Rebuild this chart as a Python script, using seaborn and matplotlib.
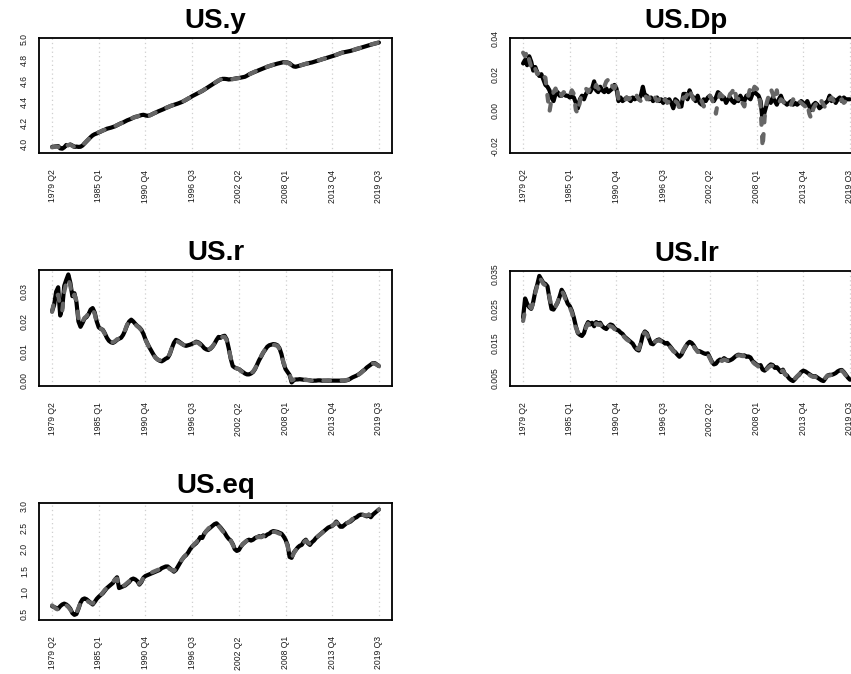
import numpy as np
import pandas as pd
import matplotlib
matplotlib.use("Agg")
import matplotlib.pyplot as plt
import seaborn as sns

# Quarterly sample and the labelled quarters on the time axis
start_q, end_q = "1979Q2", "2019Q3"
tick_labels = ["1979 Q2", "1985 Q1", "1990 Q4", "1996 Q3",
               "2002 Q2", "2008 Q1", "2013 Q4", "2019 Q3"]

# US.y : log real output (actual / fitted)
us_y = [3.972, 3.975, 3.978, 3.980, 3.958, 3.955, 3.968, 3.990, 3.988, 3.995,
        3.985, 3.972, 3.975, 3.972, 3.973, 3.985, 4.005, 4.025, 4.045, 4.065,
        4.082, 4.093, 4.100, 4.110, 4.118, 4.128, 4.135, 4.145, 4.150, 4.155,
        4.162, 4.168, 4.178, 4.188, 4.198, 4.205, 4.215, 4.225, 4.232, 4.240,
        4.250, 4.258, 4.262, 4.268, 4.275, 4.278, 4.272, 4.268, 4.272, 4.280,
        4.290, 4.298, 4.308, 4.316, 4.324, 4.332, 4.342, 4.350, 4.358, 4.366,
        4.372, 4.378, 4.385, 4.392, 4.400, 4.410, 4.420, 4.432, 4.442, 4.455,
        4.465, 4.475, 4.485, 4.495, 4.505, 4.518, 4.530, 4.542, 4.555, 4.568,
        4.580, 4.592, 4.605, 4.615, 4.620, 4.620, 4.618, 4.614, 4.616, 4.618,
        4.622, 4.626, 4.628, 4.632, 4.636, 4.640, 4.650, 4.662, 4.672, 4.680,
        4.688, 4.696, 4.704, 4.712, 4.720, 4.728, 4.735, 4.742, 4.748, 4.754,
        4.760, 4.765, 4.770, 4.775, 4.779, 4.778, 4.776, 4.768, 4.752, 4.738,
        4.735, 4.740, 4.746, 4.752, 4.758, 4.763, 4.768, 4.772, 4.776, 4.782,
        4.788, 4.794, 4.800, 4.806, 4.812, 4.818, 4.824, 4.830, 4.836, 4.842,
        4.848, 4.856, 4.864, 4.870, 4.874, 4.878, 4.882, 4.886, 4.892, 4.898,
        4.904, 4.910, 4.916, 4.922, 4.928, 4.934, 4.940, 4.946, 4.951, 4.956,
        4.960, 4.966]
us_y_fit = [3.968, 3.972, 3.976, 3.975, 3.952, 3.950, 3.964, 3.986, 3.990, 3.992,
            3.982, 3.970, 3.972, 3.970, 3.975, 3.988, 4.008, 4.028, 4.046, 4.062,
            4.080, 4.092, 4.102, 4.112, 4.120, 4.128, 4.136, 4.144, 4.150, 4.156,
            4.164, 4.170, 4.180, 4.188, 4.196, 4.206, 4.216, 4.224, 4.232, 4.242,
            4.250, 4.256, 4.262, 4.270, 4.276, 4.276, 4.270, 4.266, 4.270, 4.280,
            4.290, 4.300, 4.308, 4.316, 4.326, 4.334, 4.342, 4.350, 4.360, 4.366,
            4.372, 4.380, 4.386, 4.392, 4.402, 4.410, 4.422, 4.432, 4.444, 4.455,
            4.466, 4.476, 4.486, 4.496, 4.506, 4.518, 4.530, 4.544, 4.556, 4.568,
            4.580, 4.594, 4.606, 4.614, 4.618, 4.620, 4.616, 4.612, 4.614, 4.618,
            4.620, 4.624, 4.628, 4.632, 4.636, 4.642, 4.652, 4.662, 4.670, 4.680,
            4.690, 4.698, 4.704, 4.712, 4.722, 4.728, 4.736, 4.742, 4.748, 4.756,
            4.760, 4.766, 4.770, 4.774, 4.778, 4.776, 4.772, 4.764, 4.746, 4.734,
            4.734, 4.740, 4.748, 4.752, 4.758, 4.764, 4.768, 4.774, 4.778, 4.782,
            4.788, 4.796, 4.800, 4.808, 4.812, 4.818, 4.826, 4.830, 4.836, 4.844,
            4.850, 4.856, 4.862, 4.870, 4.874, 4.880, 4.882, 4.888, 4.892, 4.898,
            4.906, 4.910, 4.916, 4.924, 4.928, 4.934, 4.942, 4.946, 4.952, 4.956,
            4.962, 4.968]

# US.Dp : quarterly inflation (actual / fitted)
us_dp = [0.026, 0.028, 0.025, 0.030, 0.027, 0.022, 0.024, 0.021, 0.019, 0.020,
         0.017, 0.014, 0.013, 0.011, 0.007, 0.005, 0.009, 0.010, 0.008, 0.008,
         0.009, 0.008, 0.008, 0.007, 0.008, 0.007, 0.004, 0.001, 0.006, 0.008,
         0.006, 0.009, 0.011, 0.010, 0.012, 0.016, 0.011, 0.010, 0.013, 0.011,
         0.010, 0.012, 0.010, 0.011, 0.012, 0.014, 0.012, 0.005, 0.007, 0.005,
         0.006, 0.007, 0.006, 0.005, 0.007, 0.006, 0.007, 0.006, 0.008, 0.013,
         0.008, 0.008, 0.006, 0.007, 0.005, 0.006, 0.007, 0.005, 0.006, 0.004,
         0.006, 0.005, 0.006, 0.004, 0.001, 0.006, 0.005, 0.002, 0.002, 0.009,
         0.009, 0.006, 0.011, 0.008, 0.007, 0.005, 0.008, 0.004, 0.003, 0.006,
         0.005, 0.007, 0.008, 0.006, 0.005, 0.007, 0.010, 0.009, 0.006, 0.007,
         0.004, 0.006, 0.007, 0.005, 0.004, 0.006, 0.005, 0.008, 0.006, 0.005,
         0.008, 0.007, 0.006, 0.009, 0.010, 0.009, 0.008, 0.005, -0.006, -0.001,
         0.003, 0.006, 0.004, 0.007, 0.005, 0.003, 0.006, 0.008, 0.005, 0.004,
         0.003, 0.004, 0.005, 0.003, 0.004, 0.003, 0.004, 0.005, 0.004, 0.003,
         0.005, 0.002, 0.000, 0.003, 0.004, 0.003, 0.001, 0.002, 0.003, 0.004,
         0.005, 0.008, 0.005, 0.006, 0.004, 0.006, 0.007, 0.005, 0.007, 0.006,
         0.006, 0.006]
us_dp_fit = [0.032, 0.030, 0.033, 0.028, 0.024, 0.026, 0.023, 0.020, 0.021, 0.018,
             0.019, 0.018, 0.008, -0.001, 0.006, 0.010, 0.012, 0.009, 0.011, 0.008,
             0.010, 0.009, 0.010, 0.008, 0.011, 0.009, 0.000, -0.002, 0.005, 0.009,
             0.011, 0.012, 0.010, 0.012, 0.010, 0.011, 0.014, 0.012, 0.011, 0.014,
             0.013, 0.016, 0.017, 0.018, 0.013, 0.012, 0.015, 0.006, 0.006, 0.007,
             0.005, 0.007, 0.006, 0.007, 0.005, 0.006, 0.008, 0.006, 0.005, 0.008,
             0.009, 0.006, 0.007, 0.005, 0.004, 0.007, 0.005, 0.006, 0.003, 0.005,
             0.006, 0.004, 0.005, 0.003, 0.003, 0.005, 0.004, 0.001, 0.004, 0.007,
             0.007, 0.009, 0.012, 0.008, 0.006, 0.005, 0.007, 0.006, 0.005, 0.002,
             0.005, 0.007, 0.008, 0.006, 0.003, -0.002, 0.005, 0.009, 0.008, 0.007,
             0.008, 0.006, 0.009, 0.010, 0.013, 0.007, 0.006, 0.008, 0.004, 0.002,
             0.009, 0.008, 0.013, 0.010, 0.013, 0.012, 0.011, 0.002, -0.021, -0.004,
             0.004, 0.008, 0.012, 0.009, 0.005, 0.011, 0.004, 0.006, 0.005, 0.003,
             0.005, 0.004, 0.003, 0.006, 0.004, 0.003, 0.005, 0.004, 0.003, 0.002,
             0.004, -0.002, -0.005, 0.001, 0.003, 0.004, 0.002, 0.005, 0.003, 0.001,
             0.004, 0.006, 0.007, 0.005, 0.004, 0.003, 0.005, 0.006, 0.004, 0.005,
             0.003, 0.004]

# US.r : short-term interest rate (actual / fitted)
us_r = [0.0235, 0.0255, 0.0300, 0.0315, 0.0220, 0.0245, 0.0320, 0.0340, 0.0358, 0.0330,
        0.0285, 0.0295, 0.0265, 0.0200, 0.0182, 0.0195, 0.0210, 0.0215, 0.0225, 0.0240,
        0.0245, 0.0230, 0.0200, 0.0180, 0.0175, 0.0172, 0.0160, 0.0145, 0.0135, 0.0130,
        0.0128, 0.0132, 0.0138, 0.0142, 0.0145, 0.0155, 0.0170, 0.0188, 0.0200, 0.0206,
        0.0200, 0.0192, 0.0185, 0.0180, 0.0172, 0.0158, 0.0140, 0.0125, 0.0112, 0.0100,
        0.0088, 0.0078, 0.0072, 0.0068, 0.0066, 0.0070, 0.0075, 0.0078, 0.0090, 0.0110,
        0.0128, 0.0138, 0.0135, 0.0130, 0.0125, 0.0120, 0.0118, 0.0120, 0.0122, 0.0125,
        0.0128, 0.0132, 0.0130, 0.0125, 0.0118, 0.0110, 0.0106, 0.0104, 0.0108, 0.0115,
        0.0125, 0.0138, 0.0148, 0.0145, 0.0150, 0.0152, 0.0140, 0.0110, 0.0075, 0.0050,
        0.0045, 0.0042, 0.0040, 0.0035, 0.0030, 0.0025, 0.0022, 0.0022, 0.0025, 0.0030,
        0.0040, 0.0055, 0.0070, 0.0082, 0.0095, 0.0105, 0.0115, 0.0120, 0.0122, 0.0124,
        0.0123, 0.0120, 0.0110, 0.0090, 0.0060, 0.0040, 0.0030, 0.0020, -0.0005, 0.0002,
        0.0005, 0.0005, 0.0006, 0.0005, 0.0004, 0.0004, 0.0003, 0.0002, 0.0000, 0.0001,
        0.0001, 0.0002, 0.0002, 0.0001, 0.0001, 0.0001, 0.0001, 0.0001, 0.0001, 0.0001,
        0.0001, 0.0001, 0.0001, 0.0001, 0.0001, 0.0002, 0.0004, 0.0008, 0.0012, 0.0015,
        0.0018, 0.0022, 0.0027, 0.0033, 0.0038, 0.0045, 0.0050, 0.0055, 0.0060, 0.0060,
        0.0055, 0.0050]
us_r_fit = [0.0232, 0.0270, 0.0285, 0.0290, 0.0250, 0.0235, 0.0300, 0.0330, 0.0345, 0.0320,
            0.0280, 0.0290, 0.0270, 0.0210, 0.0190, 0.0200, 0.0212, 0.0218, 0.0228, 0.0238,
            0.0242, 0.0225, 0.0195, 0.0182, 0.0176, 0.0170, 0.0158, 0.0146, 0.0136, 0.0132,
            0.0130, 0.0134, 0.0140, 0.0142, 0.0146, 0.0156, 0.0172, 0.0190, 0.0198, 0.0202,
            0.0198, 0.0190, 0.0184, 0.0178, 0.0170, 0.0156, 0.0138, 0.0124, 0.0110, 0.0098,
            0.0086, 0.0078, 0.0072, 0.0070, 0.0068, 0.0072, 0.0076, 0.0080, 0.0092, 0.0112,
            0.0130, 0.0136, 0.0132, 0.0128, 0.0124, 0.0120, 0.0118, 0.0122, 0.0124, 0.0126,
            0.0128, 0.0130, 0.0128, 0.0122, 0.0116, 0.0108, 0.0104, 0.0104, 0.0110, 0.0116,
            0.0126, 0.0136, 0.0145, 0.0146, 0.0148, 0.0148, 0.0136, 0.0108, 0.0078, 0.0054,
            0.0046, 0.0042, 0.0040, 0.0034, 0.0028, 0.0024, 0.0022, 0.0024, 0.0026, 0.0032,
            0.0042, 0.0056, 0.0070, 0.0084, 0.0096, 0.0106, 0.0114, 0.0118, 0.0120, 0.0122,
            0.0120, 0.0118, 0.0108, 0.0088, 0.0062, 0.0042, 0.0032, 0.0022, 0.0002, 0.0005,
            0.0006, 0.0006, 0.0006, 0.0005, 0.0004, 0.0003, 0.0003, 0.0002, 0.0001, 0.0001,
            0.0001, 0.0002, 0.0002, 0.0001, 0.0001, 0.0001, 0.0002, 0.0001, 0.0001, 0.0002,
            0.0001, 0.0001, 0.0002, 0.0001, 0.0002, 0.0003, 0.0005, 0.0008, 0.0011, 0.0013,
            0.0016, 0.0021, 0.0026, 0.0032, 0.0039, 0.0045, 0.0051, 0.0056, 0.0059, 0.0058,
            0.0054, 0.0050]

# US.lr : long-term interest rate (actual / fitted)
us_lr = [0.0225, 0.0280, 0.0265, 0.0255, 0.0250, 0.0270, 0.0300, 0.0320, 0.0345, 0.0335,
         0.0325, 0.0322, 0.0315, 0.0280, 0.0250, 0.0248, 0.0258, 0.0268, 0.0285, 0.0305,
         0.0295, 0.0280, 0.0265, 0.0258, 0.0245, 0.0225, 0.0200, 0.0180, 0.0175, 0.0172,
         0.0180, 0.0200, 0.0212, 0.0205, 0.0210, 0.0200, 0.0212, 0.0208, 0.0210, 0.0200,
         0.0195, 0.0192, 0.0200, 0.0205, 0.0203, 0.0195, 0.0190, 0.0188, 0.0182, 0.0178,
         0.0170, 0.0165, 0.0160, 0.0155, 0.0150, 0.0140, 0.0133, 0.0130, 0.0150, 0.0175,
         0.0185, 0.0180, 0.0165, 0.0150, 0.0148, 0.0155, 0.0160, 0.0162, 0.0158, 0.0155,
         0.0150, 0.0152, 0.0145, 0.0138, 0.0130, 0.0125, 0.0118, 0.0112, 0.0118, 0.0130,
         0.0140, 0.0150, 0.0155, 0.0152, 0.0145, 0.0135, 0.0128, 0.0128, 0.0125, 0.0122,
         0.0120, 0.0122, 0.0110, 0.0098, 0.0090, 0.0092, 0.0100, 0.0104, 0.0102, 0.0108,
         0.0104, 0.0100, 0.0102, 0.0105, 0.0110, 0.0115, 0.0118, 0.0117, 0.0115, 0.0116,
         0.0112, 0.0113, 0.0110, 0.0100, 0.0095, 0.0090, 0.0085, 0.0088, 0.0075, 0.0072,
         0.0078, 0.0085, 0.0090, 0.0088, 0.0080, 0.0082, 0.0075, 0.0068, 0.0075, 0.0062,
         0.0058, 0.0050, 0.0045, 0.0042, 0.0048, 0.0055, 0.0060, 0.0068, 0.0072, 0.0070,
         0.0066, 0.0062, 0.0058, 0.0055, 0.0056, 0.0052, 0.0048, 0.0044, 0.0042, 0.0050,
         0.0058, 0.0060, 0.0060, 0.0062, 0.0065, 0.0070, 0.0073, 0.0074, 0.0068, 0.0060,
         0.0052, 0.0046]
us_lr_fit = [0.0215, 0.0245, 0.0255, 0.0260, 0.0252, 0.0265, 0.0295, 0.0318, 0.0340, 0.0332,
             0.0322, 0.0318, 0.0310, 0.0285, 0.0255, 0.0250, 0.0256, 0.0270, 0.0288, 0.0302,
             0.0292, 0.0276, 0.0262, 0.0255, 0.0240, 0.0220, 0.0196, 0.0182, 0.0178, 0.0176,
             0.0184, 0.0196, 0.0208, 0.0200, 0.0206, 0.0198, 0.0208, 0.0204, 0.0206, 0.0196,
             0.0192, 0.0194, 0.0202, 0.0200, 0.0198, 0.0192, 0.0188, 0.0184, 0.0178, 0.0174,
             0.0168, 0.0162, 0.0158, 0.0152, 0.0148, 0.0140, 0.0136, 0.0134, 0.0154, 0.0176,
             0.0182, 0.0176, 0.0162, 0.0152, 0.0150, 0.0156, 0.0158, 0.0160, 0.0156, 0.0152,
             0.0150, 0.0150, 0.0142, 0.0136, 0.0128, 0.0124, 0.0116, 0.0114, 0.0120, 0.0132,
             0.0142, 0.0150, 0.0152, 0.0150, 0.0142, 0.0134, 0.0126, 0.0126, 0.0124, 0.0120,
             0.0118, 0.0118, 0.0108, 0.0096, 0.0092, 0.0094, 0.0100, 0.0102, 0.0100, 0.0104,
             0.0102, 0.0100, 0.0102, 0.0106, 0.0112, 0.0114, 0.0116, 0.0116, 0.0114, 0.0114,
             0.0110, 0.0110, 0.0106, 0.0098, 0.0092, 0.0088, 0.0084, 0.0082, 0.0072, 0.0070,
             0.0076, 0.0082, 0.0086, 0.0086, 0.0080, 0.0078, 0.0074, 0.0070, 0.0072, 0.0062,
             0.0056, 0.0050, 0.0046, 0.0044, 0.0050, 0.0056, 0.0062, 0.0068, 0.0070, 0.0068,
             0.0064, 0.0060, 0.0056, 0.0054, 0.0054, 0.0050, 0.0048, 0.0044, 0.0044, 0.0052,
             0.0058, 0.0058, 0.0060, 0.0062, 0.0064, 0.0068, 0.0070, 0.0072, 0.0066, 0.0058,
             0.0050, 0.0044]

# US.eq : log real equity prices (actual / fitted)
us_eq = [0.68, 0.66, 0.64, 0.62, 0.68, 0.72, 0.74, 0.72, 0.68, 0.62,
         0.52, 0.48, 0.50, 0.62, 0.76, 0.84, 0.86, 0.84, 0.80, 0.76,
         0.72, 0.78, 0.85, 0.90, 0.94, 0.98, 1.04, 1.10, 1.14, 1.18,
         1.22, 1.30, 1.35, 1.10, 1.12, 1.14, 1.16, 1.20, 1.24, 1.30,
         1.32, 1.30, 1.26, 1.18, 1.24, 1.34, 1.38, 1.40, 1.42, 1.44,
         1.46, 1.48, 1.50, 1.52, 1.56, 1.58, 1.60, 1.60, 1.56, 1.52,
         1.48, 1.52, 1.60, 1.68, 1.76, 1.82, 1.86, 1.92, 2.00, 2.06,
         2.10, 2.14, 2.20, 2.28, 2.26, 2.36, 2.42, 2.46, 2.50, 2.54,
         2.58, 2.60, 2.55, 2.50, 2.44, 2.38, 2.30, 2.24, 2.20, 2.12,
         2.00, 1.96, 1.98, 2.06, 2.12, 2.16, 2.20, 2.22, 2.20, 2.22,
         2.26, 2.28, 2.30, 2.28, 2.32, 2.30, 2.34, 2.36, 2.40, 2.42,
         2.41, 2.40, 2.38, 2.36, 2.30, 2.22, 2.10, 1.82, 1.80, 1.92,
         1.98, 2.04, 2.08, 2.10, 2.18, 2.22, 2.14, 2.10, 2.16, 2.20,
         2.26, 2.30, 2.34, 2.38, 2.42, 2.46, 2.50, 2.52, 2.54, 2.58,
         2.64, 2.58, 2.52, 2.52, 2.56, 2.60, 2.62, 2.64, 2.68, 2.72,
         2.74, 2.78, 2.80, 2.80, 2.78, 2.76, 2.80, 2.74, 2.80, 2.84,
         2.88, 2.92]
us_eq_fit = [0.70, 0.66, 0.62, 0.60, 0.66, 0.70, 0.72, 0.70, 0.66, 0.60,
             0.52, 0.46, 0.52, 0.64, 0.76, 0.82, 0.84, 0.82, 0.78, 0.76,
             0.74, 0.80, 0.86, 0.90, 0.94, 1.00, 1.06, 1.10, 1.14, 1.20,
             1.24, 1.30, 1.32, 1.12, 1.12, 1.14, 1.18, 1.22, 1.26, 1.30,
             1.30, 1.28, 1.24, 1.20, 1.26, 1.34, 1.38, 1.40, 1.44, 1.46,
             1.48, 1.50, 1.52, 1.54, 1.56, 1.58, 1.58, 1.58, 1.54, 1.52,
             1.50, 1.54, 1.62, 1.70, 1.76, 1.82, 1.88, 1.94, 2.00, 2.06,
             2.12, 2.16, 2.22, 2.26, 2.28, 2.36, 2.42, 2.48, 2.52, 2.54,
             2.56, 2.58, 2.54, 2.48, 2.42, 2.36, 2.30, 2.26, 2.20, 2.10,
             2.02, 1.98, 2.00, 2.06, 2.12, 2.16, 2.20, 2.20, 2.20, 2.24,
             2.26, 2.28, 2.28, 2.28, 2.30, 2.30, 2.34, 2.36, 2.40, 2.40,
             2.40, 2.38, 2.36, 2.34, 2.28, 2.20, 2.08, 1.84, 1.80, 1.90,
             1.98, 2.02, 2.06, 2.10, 2.16, 2.20, 2.16, 2.12, 2.16, 2.20,
             2.24, 2.30, 2.34, 2.38, 2.42, 2.46, 2.48, 2.52, 2.54, 2.58,
             2.62, 2.58, 2.54, 2.54, 2.58, 2.60, 2.62, 2.66, 2.70, 2.72,
             2.74, 2.76, 2.78, 2.80, 2.78, 2.78, 2.80, 2.76, 2.80, 2.84,
             2.88, 2.92]

# ---------------------------------------------------------------------------
sns.set_style("white")
plt.rcParams["font.family"] = ["Liberation Sans", "DejaVu Sans"]

periods = pd.period_range(start_q, end_q, freq="Q")
t = np.arange(len(periods))
period_names = [f"{p.year} Q{p.quarter}" for p in periods]
tick_pos = [period_names.index(lab) for lab in tick_labels]

W, H = 851, 674
fig = plt.figure(figsize=(W / 100, H / 100), dpi=100)


def rect(left_px, top_px, bottom_px, width_px=353):
    return [left_px / W, 1 - bottom_px / H, width_px / W, (bottom_px - top_px) / H]


panels = [
    ("US.y", us_y, us_y_fit, rect(39, 37.7, 153.3), (3.911, 5.012),
     [4.0, 4.2, 4.4, 4.6, 4.8, 5.0], ["4.0", "4.2", "4.4", "4.6", "4.8", "5.0"]),
    ("US.Dp", us_dp, us_dp_fit, rect(510, 38.3, 153.3), (-0.0241, 0.0399),
     [-0.02, -0.01, 0.0, 0.01, 0.02, 0.03, 0.04],
     ["-0.02", "", "0.00", "", "0.02", "", "0.04"]),
    ("US.r", us_r, us_r_fit, rect(39, 270, 386), (-0.0017, 0.0373),
     [0.0, 0.01, 0.02, 0.03], ["0.00", "0.01", "0.02", "0.03"]),
    ("US.lr", us_lr, us_lr_fit, rect(510, 270.7, 386), (0.00278, 0.0360),
     [0.005, 0.010, 0.015, 0.020, 0.025, 0.030, 0.035],
     ["0.005", "", "0.015", "", "0.025", "", "0.035"]),
    ("US.eq", us_eq, us_eq_fit, rect(39, 503.3, 620), (0.361, 3.0625),
     [0.5, 1.0, 1.5, 2.0, 2.5, 3.0], ["0.5", "1.0", "1.5", "2.0", "2.5", "3.0"]),
]

for title, actual, fitted, pos, ylim, yticks, ylabels in panels:
    ax = fig.add_axes(pos)
    df = pd.DataFrame({"t": t, "actual": actual, "fitted": fitted})

    # dotted guides at the labelled quarters
    for xp in tick_pos:
        ax.axvline(xp, color="#cfcfcf", lw=0.9, ls=(0, (1, 2.5)), zorder=0)

    sns.lineplot(data=df, x="t", y="actual", ax=ax, color="black", lw=3.0,
                 estimator=None, sort=False, solid_capstyle="round",
                 solid_joinstyle="round", zorder=2)
    sns.lineplot(data=df, x="t", y="fitted", ax=ax, color="#666666", lw=3.0,
                 estimator=None, sort=False, linestyle=(0, (1.6, 2.8)),
                 dash_capstyle="round", dash_joinstyle="round", zorder=3)

    ax.set_xlim(-0.04 * (len(t) - 1), (len(t) - 1) * 1.04)
    ax.set_ylim(*ylim)
    ax.set_xlabel("")
    ax.set_ylabel("")
    ax.set_title(title, fontsize=20, fontweight="bold", pad=7.2, color="black")

    ax.set_xticks(tick_pos)
    ax.set_xticklabels(tick_labels, rotation=90, fontsize=6.2)
    ax.set_yticks(yticks)
    ax.set_yticklabels(ylabels, rotation=90, va="center", fontsize=6.2)
    ax.tick_params(axis="x", direction="out", length=6.7, width=1.0,
                   pad=5.0, color="black", labelcolor="#1a1a1a")
    ax.tick_params(axis="y", direction="out", length=4.3, width=1.0,
                   pad=2.9, color="black", labelcolor="#1a1a1a")
    ax.grid(False)
    for sp in ax.spines.values():
        sp.set_visible(True)
        sp.set_color("black")
        sp.set_linewidth(1.3)

fig.savefig("out.png", dpi=100)
